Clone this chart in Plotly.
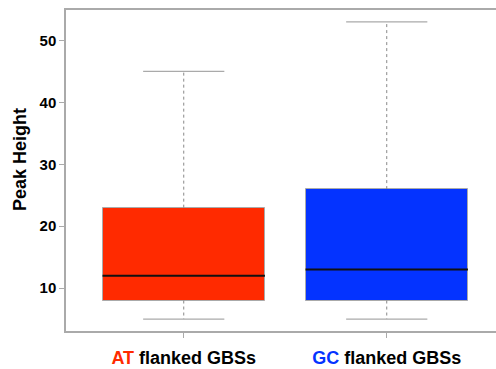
import plotly.graph_objects as go

categories = ["AT flanked GBSs", "GC flanked GBSs"]
tick_labels = ['<span style="color:#FF2A00">AT</span> flanked GBSs',
               '<span style="color:#0433FF">GC</span> flanked GBSs']
positions = [1, 2]
mins = [5, 5]
q1s = [8, 8]
medians = [12, 13]
q3s = [23, 26]
maxs = [45, 53]
colors = ["#FF2A00", "#0433FF"]
y_ticks = [10, 20, 30, 40, 50]
y_title = "Peak Height"

box_w = 0.8
cap_w = 0.4

fig = go.Figure()

for i in range(len(categories)):
    x = positions[i]
    fig.add_trace(go.Scatter(x=[x, x, None, x, x], y=[q3s[i], maxs[i], None, q1s[i], mins[i]],
                             mode="lines", line=dict(color="#888888", width=1, dash="dot"),
                             showlegend=False, hoverinfo="skip"))
    fig.add_trace(go.Scatter(x=[x - cap_w / 2, x + cap_w / 2, None, x - cap_w / 2, x + cap_w / 2],
                             y=[maxs[i], maxs[i], None, mins[i], mins[i]],
                             mode="lines", line=dict(color="#aaaaaa", width=1.2),
                             showlegend=False, hoverinfo="skip"))

fig.add_trace(go.Bar(x=positions, y=[q3s[i] - q1s[i] for i in range(2)], base=q1s,
                     width=box_w, marker=dict(color=colors, line=dict(color="#aaaaaa", width=1)),
                     showlegend=False, hoverinfo="skip"))

for i in range(len(categories)):
    x = positions[i]
    fig.add_trace(go.Scatter(x=[x - box_w / 2, x + box_w / 2], y=[medians[i], medians[i]],
                             mode="lines", line=dict(color="#111111", width=2),
                             showlegend=False, hoverinfo="skip"))

fig.update_layout(
    width=496, height=369,
    margin=dict(l=66, r=0, t=10, b=38),
    plot_bgcolor="white", paper_bgcolor="white",
    font=dict(family="Liberation Sans, Arial, sans-serif", color="black"),
    bargap=0,
)
fig.add_annotation(text="<b>" + y_title + "</b>", xref="paper", yref="paper",
                   x=0, y=(331 - 160) / 321, xshift=-46, xanchor="center", yanchor="middle",
                   textangle=-90, showarrow=False, font=dict(size=18))
fig.update_xaxes(
    range=[0.42, 0.42 + 430 / 203], tickvals=positions,
    ticktext=["<b>" + t + "</b>" for t in tick_labels],
    showline=True, linecolor="#aaaaaa", linewidth=1.5, mirror=True,
    ticks="outside", ticklen=5, tickcolor="#aaaaaa", showgrid=False, zeroline=False,
    tickfont=dict(size=18), automargin=False,
    ticklabelstandoff=5,
)
fig.update_yaxes(
    range=[3.08, 54.92], tickvals=y_ticks,
    ticktext=["<b>%d</b>" % v for v in y_ticks],
    showline=True, linecolor="#aaaaaa", linewidth=1.5,
    ticks="outside", ticklen=5, tickcolor="#aaaaaa", showgrid=False, zeroline=False,
    tickfont=dict(size=15), automargin=False,
)

fig.write_html("out.html", config={"displayModeBar": False},
               post_script="document.body.style.margin='0px';document.body.style.overflow='hidden';")
